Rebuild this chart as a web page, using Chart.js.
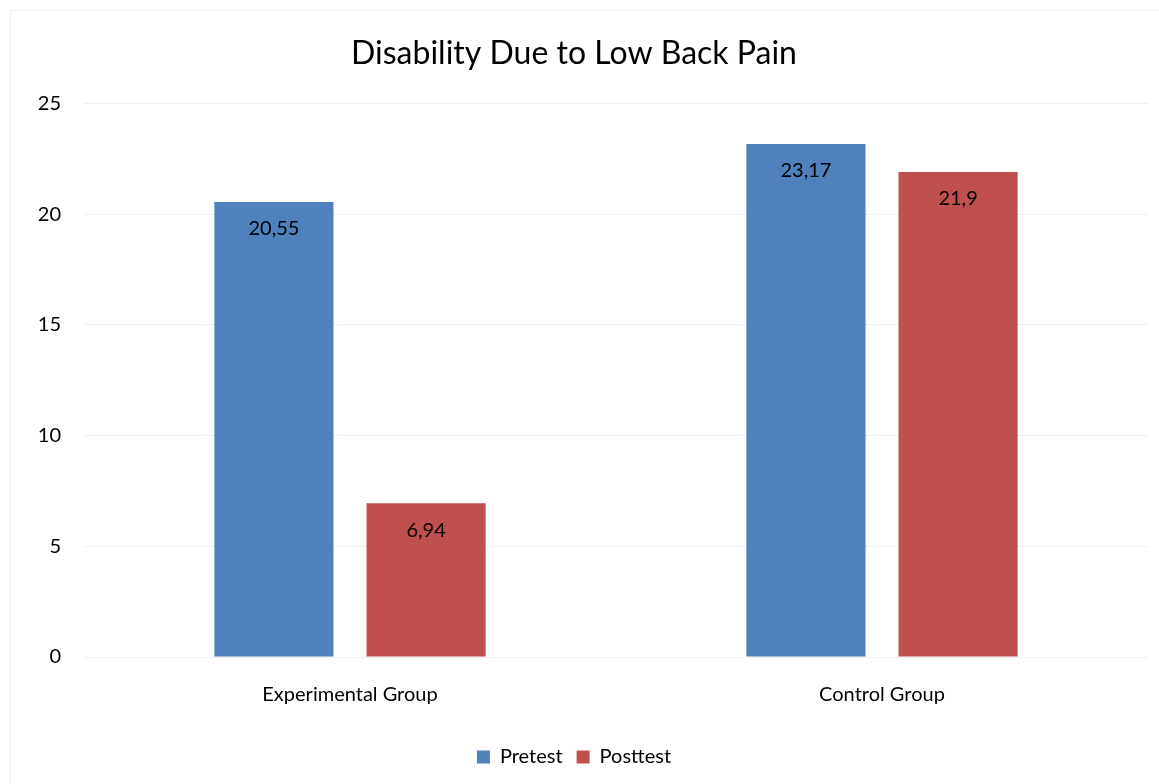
<!DOCTYPE html>
<html>
<head>
<meta charset="utf-8">
<script src="https://cdn.jsdelivr.net/npm/chart.js@4.4.1/dist/chart.umd.min.js"></script>
<style>
  html, body { margin: 0; padding: 0; background: #ffffff; }
  #wrap { position: absolute; left: 0; top: 0; width: 1159px; height: 784px; }
</style>
</head>
<body>
<div id="wrap"><canvas id="c" width="1159" height="784"></canvas></div>
<script>
const categories = ["Experimental Group", "Control Group"];
const pretest = [20.55, 23.17];
const posttest = [6.94, 21.9];
const seriesNames = ["Pretest", "Posttest"];
const yTicks = [0, 5, 10, 15, 20, 25];
const chartTitle = "Disability Due to Low Back Pain";

const FONT = "Lato, 'Open Sans', sans-serif";

const frame = {
  id: 'frame',
  beforeDraw(chart) {
    const ctx = chart.ctx;
    ctx.save();
    ctx.fillStyle = '#ffffff';
    ctx.fillRect(0, 0, chart.width, chart.height);
    ctx.strokeStyle = '#EFEFEF';
    ctx.lineWidth = 1;
    ctx.strokeRect(10.5, 10.5, chart.width + 20, chart.height + 20);
    ctx.restore();
  }
};

const valueLabels = {
  id: 'valueLabels',
  afterDatasetsDraw(chart) {
    const ctx = chart.ctx;
    ctx.save();
    ctx.font = "20px " + FONT;
    ctx.fillStyle = '#000000';
    ctx.textAlign = 'center';
    ctx.textBaseline = 'middle';
    chart.data.datasets.forEach((ds, i) => {
      const meta = chart.getDatasetMeta(i);
      meta.data.forEach((bar, j) => {
        const txt = String(ds.data[j]).replace('.', ',');
        ctx.fillText(txt, bar.x, bar.y + 27);
      });
    });
    ctx.restore();
  }
};

new Chart(document.getElementById('c'), {
  type: 'bar',
  data: {
    labels: categories,
    datasets: [
      { label: seriesNames[0], data: pretest, backgroundColor: '#4F81BD', borderColor: '#4F81BD', borderWidth: 0 },
      { label: seriesNames[1], data: posttest, backgroundColor: '#C0504D', borderColor: '#C0504D', borderWidth: 0 }
    ]
  },
  options: {
    responsive: false,
    animation: false,
    devicePixelRatio: 1,
    layout: { padding: { left: 0, right: 11, top: 0, bottom: 7 } },
    datasets: { bar: { categoryPercentage: 0.572, barPercentage: 0.783 } },
    plugins: {
      title: {
        display: true,
        text: chartTitle,
        color: '#000000',
        font: { family: FONT, size: 32, weight: 'normal' },
        padding: { top: 34, bottom: 31 }
      },
      legend: {
        display: true,
        position: 'bottom',
        labels: {
          color: '#000000',
          font: { family: FONT, size: 20 },
          boxWidth: 13,
          boxHeight: 13,
          padding: 14
        }
      },
      tooltip: { enabled: false }
    },
    scales: {
      x: {
        grid: { display: false, drawTicks: false },
        border: { display: false },
        ticks: { color: '#000000', font: { family: FONT, size: 20 }, padding: 26 }
      },
      y: {
        min: 0,
        max: 25,
        afterBuildTicks(scale) { scale.ticks = yTicks.map(v => ({ value: v })); },
        afterFit(scale) { scale.width = 84; },
        grid: { color: '#F0F0F0', drawTicks: false },
        border: { display: false },
        ticks: { color: '#000000', font: { family: FONT, size: 20 }, padding: 23 }
      }
    }
  },
  plugins: [frame, valueLabels]
});
</script>
</body>
</html>
